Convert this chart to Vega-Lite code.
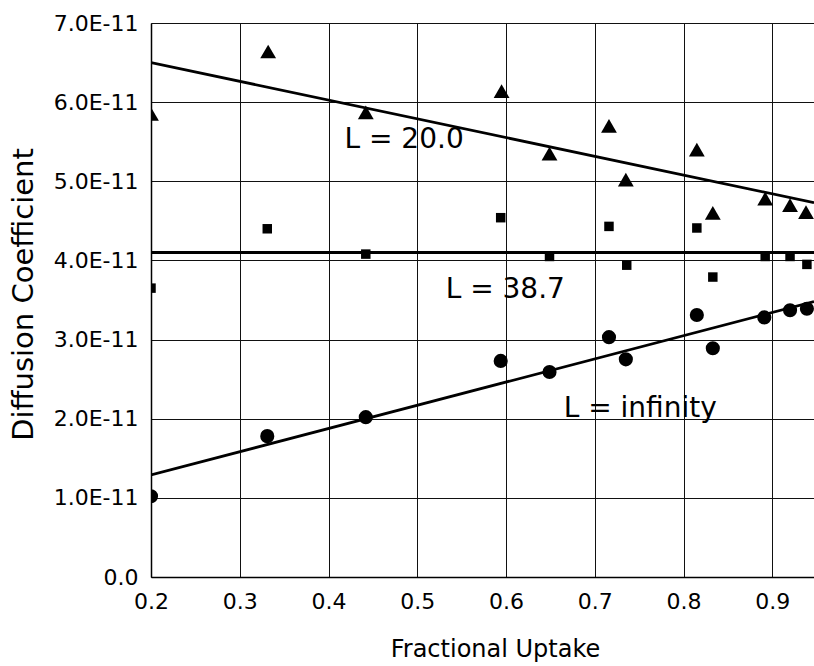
{
  "$schema": "https://vega.github.io/schema/vega-lite/v6.json",
  "autosize": {"type": "none"},
  "padding": {"left": 151, "top": 23, "right": 0, "bottom": 89},
  "width": 663,
  "height": 554,
  "background": "white",
  "config": {
    "view": {"stroke": null},
    "axis": {
      "labelFont": "DejaVu Sans",
      "labelFontSize": 22,
      "labelColor": "black",
      "titleFont": "DejaVu Sans",
      "titleFontWeight": "normal",
      "titleColor": "black",
      "grid": true,
      "gridColor": "#111",
      "gridWidth": 1,
      "domainColor": "black",
      "domainWidth": 1.5,
      "ticks": false,
      "tickSize": 0,
      "labelFlush": false,
      "labelOverlap": false,
      "labelBound": false
    }
  },
  "datasets": {
    "pts": [
      {"series": "L20", "x": 0.2, "y": 5.85e-11},
      {"series": "L20", "x": 0.332, "y": 6.64e-11},
      {"series": "L20", "x": 0.442, "y": 5.87e-11},
      {"series": "L20", "x": 0.595, "y": 6.14e-11},
      {"series": "L20", "x": 0.649, "y": 5.35e-11},
      {"series": "L20", "x": 0.716, "y": 5.70e-11},
      {"series": "L20", "x": 0.735, "y": 5.02e-11},
      {"series": "L20", "x": 0.815, "y": 5.40e-11},
      {"series": "L20", "x": 0.833, "y": 4.60e-11},
      {"series": "L20", "x": 0.892, "y": 4.78e-11},
      {"series": "L20", "x": 0.920, "y": 4.70e-11},
      {"series": "L20", "x": 0.938, "y": 4.61e-11},
      {"series": "L38", "x": 0.2, "y": 3.65e-11},
      {"series": "L38", "x": 0.331, "y": 4.40e-11},
      {"series": "L38", "x": 0.442, "y": 4.08e-11},
      {"series": "L38", "x": 0.594, "y": 4.54e-11},
      {"series": "L38", "x": 0.649, "y": 4.05e-11},
      {"series": "L38", "x": 0.716, "y": 4.43e-11},
      {"series": "L38", "x": 0.736, "y": 3.94e-11},
      {"series": "L38", "x": 0.815, "y": 4.41e-11},
      {"series": "L38", "x": 0.833, "y": 3.79e-11},
      {"series": "L38", "x": 0.892, "y": 4.05e-11},
      {"series": "L38", "x": 0.920, "y": 4.05e-11},
      {"series": "L38", "x": 0.939, "y": 3.95e-11},
      {"series": "Linf", "x": 0.2, "y": 1.02e-11},
      {"series": "Linf", "x": 0.331, "y": 1.78e-11},
      {"series": "Linf", "x": 0.442, "y": 2.02e-11},
      {"series": "Linf", "x": 0.594, "y": 2.73e-11},
      {"series": "Linf", "x": 0.649, "y": 2.59e-11},
      {"series": "Linf", "x": 0.716, "y": 3.03e-11},
      {"series": "Linf", "x": 0.735, "y": 2.75e-11},
      {"series": "Linf", "x": 0.815, "y": 3.31e-11},
      {"series": "Linf", "x": 0.833, "y": 2.89e-11},
      {"series": "Linf", "x": 0.891, "y": 3.28e-11},
      {"series": "Linf", "x": 0.920, "y": 3.37e-11},
      {"series": "Linf", "x": 0.939, "y": 3.39e-11}
    ],
    "fits": [
      {"series": "L20", "x": 0.2, "y": 6.50e-11},
      {"series": "L20", "x": 0.947, "y": 4.73e-11},
      {"series": "L38", "x": 0.2, "y": 4.10e-11},
      {"series": "L38", "x": 0.947, "y": 4.10e-11},
      {"series": "Linf", "x": 0.2, "y": 1.29e-11},
      {"series": "Linf", "x": 0.947, "y": 3.48e-11}
    ],
    "labels": [
      {"text": "L = 20.0", "x": 0.418, "y": 5.42e-11},
      {"text": "L = 38.7", "x": 0.532, "y": 3.52e-11},
      {"text": "L = infinity", "x": 0.665, "y": 2.02e-11}
    ]
  },
  "encoding": {
    "x": {
      "field": "x",
      "type": "quantitative",
      "scale": {"domain": [0.2, 0.947], "nice": false, "zero": false},
      "axis": {
        "values": [0.2, 0.3, 0.4, 0.5, 0.6, 0.7, 0.8, 0.9],
        "format": ".1f",
        "labelBaseline": "alphabetic",
        "labelPadding": 31,
        "title": "Fractional Uptake",
        "titleFontSize": 24,
        "titleX": 344,
        "titleY": 79,
        "titleBaseline": "alphabetic",
        "titleAlign": "center"
      }
    },
    "y": {
      "field": "y",
      "type": "quantitative",
      "scale": {"domain": [0, 7e-11], "nice": false},
      "axis": {
        "values": [0, 1e-11, 2e-11, 3e-11, 4e-11, 5e-11, 6e-11, 7e-11],
        "labelExpr": "datum.value == 0 ? '0.0' : format(datum.value * 1e11, '.1f') + 'E-11'",
        "labelPadding": 13,
        "labelBaseline": "middle",
        "title": "Diffusion Coefficient",
        "titleFontSize": 29,
        "titleAngle": 270,
        "titleX": -128,
        "titleY": 271,
        "titleAlign": "center",
        "titleBaseline": "middle"
      }
    }
  },
  "layer": [
    {
      "data": {"name": "fits"},
      "mark": {"type": "line", "color": "black", "strokeWidth": 2.8, "clip": true},
      "encoding": {"detail": {"field": "series"}}
    },
    {
      "data": {"name": "pts"},
      "transform": [{"filter": "datum.series == 'L20'"}],
      "mark": {"type": "point", "shape": "triangle-up", "size": 250, "filled": true, "opacity": 1, "color": "black", "clip": true},
      "encoding": {}
    },
    {
      "data": {"name": "pts"},
      "transform": [{"filter": "datum.series == 'L38'"}],
      "mark": {"type": "point", "shape": "square", "size": 90, "filled": true, "opacity": 1, "color": "black", "clip": true},
      "encoding": {}
    },
    {
      "data": {"name": "pts"},
      "transform": [{"filter": "datum.series == 'Linf'"}],
      "mark": {"type": "point", "shape": "circle", "size": 200, "filled": true, "opacity": 1, "color": "black", "clip": true},
      "encoding": {}
    },
    {
      "data": {"name": "labels"},
      "mark": {"type": "text", "font": "DejaVu Sans", "fontSize": 28, "align": "left", "baseline": "alphabetic", "color": "black"},
      "encoding": {"text": {"field": "text"}}
    }
  ]
}
